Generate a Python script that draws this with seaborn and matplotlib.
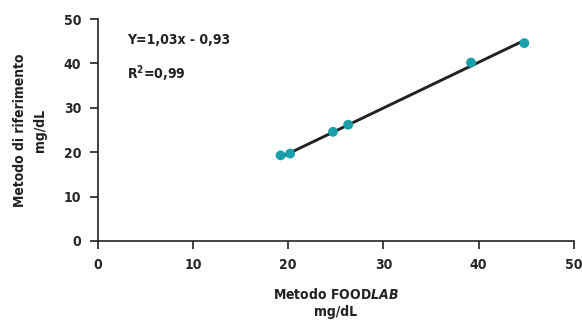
import matplotlib
matplotlib.use("Agg")
import matplotlib.pyplot as plt
import seaborn as sns
import numpy as np
import pandas as pd

# dati
foodlab = [19.2, 20.2, 24.7, 26.3, 39.2, 44.8]
riferimento = [19.3, 19.7, 24.6, 26.2, 40.2, 44.6]
slope = 1.03
intercept = -0.93
ticks = [0, 10, 20, 30, 40, 50]

sns.set_style("white")
plt.rcParams['font.family'] = ['DejaVu Sans']
plt.rcParams['font.stretch'] = 'condensed'
plt.rcParams['font.weight'] = 'bold'
plt.rcParams['mathtext.fontset'] = 'custom'
plt.rcParams['mathtext.it'] = 'DejaVu Sans:italic:bold'
plt.rcParams['mathtext.rm'] = 'DejaVu Sans:bold'

df = pd.DataFrame({"x": foodlab, "y": riferimento})

fig = plt.figure(figsize=(5.82, 3.22), dpi=100)
ax = fig.add_axes([0.168, 0.2516, 0.818, 0.689])

xs = np.array([min(foodlab), max(foodlab)])
ax.plot(xs, slope * xs + intercept, color="#222222", lw=2.1, zorder=2)
sns.scatterplot(data=df, x="x", y="y", ax=ax, color="#1aa0aa", s=50,
                edgecolor="none", zorder=3)

ax.set_xlim(0, 50)
ax.set_ylim(0, 50)
ax.set_xticks(ticks)
ax.set_yticks(ticks)
for s in ["top", "right"]:
    ax.spines[s].set_visible(False)
for s in ["left", "bottom"]:
    ax.spines[s].set_color("#222222")
    ax.spines[s].set_linewidth(1.2)
ax.tick_params(axis="both", direction="out", length=6, width=1.2,
               color="#222222", labelsize=10, pad=6, left=True, bottom=True)

ax.set_xlabel("Metodo FOOD$\\mathit{LAB}$\nmg/dL", fontsize=10,
              fontweight="bold", labelpad=11, color="#222222",
              linespacing=1.25)
ax.set_ylabel("Metodo di riferimento\nmg/dL", fontsize=10,
              fontweight="bold", labelpad=12, color="#222222",
              linespacing=1.5)

ax.text(3.1, 45.2, "Y=1,03x - 0,93", fontsize=10, fontweight="bold",
        color="#222222", va="center")
ax.text(3.1, 37.8, "R$^2$=0,99", fontsize=10, fontweight="bold",
        color="#222222", va="center")

fig.savefig("out.png", dpi=100)
